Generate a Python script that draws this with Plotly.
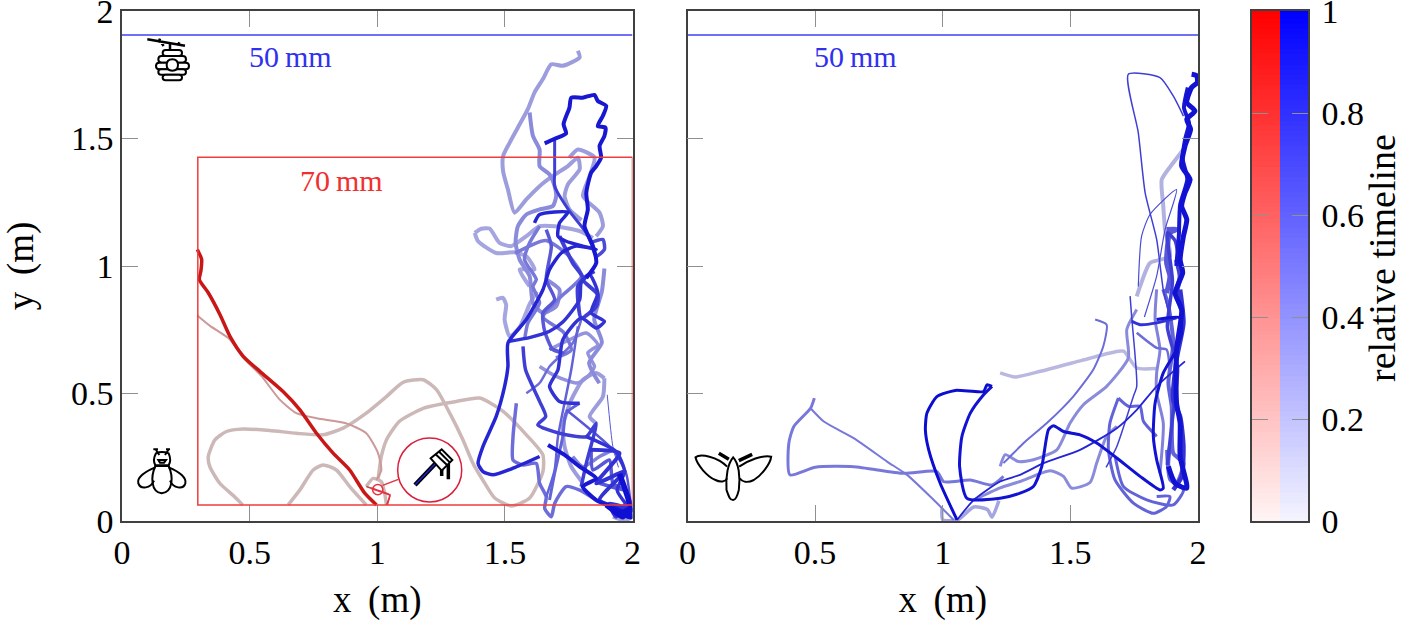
import re
import plotly.graph_objects as go

x_ticks = [0, 0.5, 1, 1.5, 2]
y_ticks = [0, 0.5, 1, 1.5, 2]
bar_ticks = [0, 0.2, 0.4, 0.6, 0.8, 1]
bar_levels = [i / 100 for i in range(101)]

# bee flight, first part of the run (red scale)
bee_red_main = [(0.295, 1.065), (0.312, 1.026), (0.309, 0.980), (0.303, 0.947), (0.338, 0.895), (0.384, 0.809),
                (0.423, 0.724), (0.475, 0.646), (0.540, 0.587), (0.631, 0.508), (0.697, 0.436), (0.762, 0.344),
                (0.827, 0.266), (0.892, 0.200), (0.951, 0.109), (0.997, 0.063)]
bee_red_thin = [(0.295, 0.806), (0.345, 0.765), (0.423, 0.712), (0.475, 0.640), (0.545, 0.570), (0.618, 0.476),
                (0.683, 0.423), (0.762, 0.403), (0.879, 0.383), (0.957, 0.344), (1.003, 0.266), (1.016, 0.200),
                (0.997, 0.161)]
bee_red_loop = [(0.473, 0.063), (0.440, 0.096), (0.383, 0.148), (0.344, 0.213), (0.338, 0.253), (0.364, 0.318),
                (0.409, 0.351), (0.475, 0.361), (0.579, 0.355), (0.683, 0.344), (0.788, 0.338), (0.866, 0.364),
                (0.957, 0.423), (1.036, 0.488), (1.101, 0.544), (1.180, 0.554), (1.232, 0.515), (1.284, 0.423),
                (1.336, 0.318), (1.375, 0.226), (1.414, 0.160), (1.460, 0.090), (1.526, 0.059), (1.597, 0.090),
                (1.649, 0.194), (1.649, 0.259), (1.584, 0.338), (1.493, 0.430), (1.401, 0.482), (1.310, 0.469),
                (1.258, 0.460), (1.180, 0.442), (1.087, 0.391), (1.036, 0.318), (1.016, 0.253), (1.003, 0.161)]
bee_red_arch = [(0.651, 0.063), (0.697, 0.122), (0.749, 0.200), (0.788, 0.220), (0.840, 0.200), (0.892, 0.135),
                (0.957, 0.063)]
bee_red_knot = [(0.957, 0.135), (0.984, 0.167), (1.016, 0.154), (1.029, 0.109), (1.036, 0.063)]
bee_red_tail = [(1.036, 0.063), (1.049, 0.102), (0.997, 0.122), (0.957, 0.135)]

# bee flight, second part of the run (blue scale)
bee_a = [(1.786, 1.844), (1.793, 1.818), (1.727, 1.785), (1.682, 1.791), (1.649, 1.733), (1.616, 1.680),
         (1.590, 1.615), (1.551, 1.543), (1.519, 1.484), (1.493, 1.431), (1.493, 1.372), (1.512, 1.300),
         (1.538, 1.209), (1.584, 1.261), (1.636, 1.313), (1.688, 1.353), (1.747, 1.392), (1.786, 1.425),
         (1.793, 1.379), (1.747, 1.320), (1.734, 1.274), (1.753, 1.222), (1.800, 1.180)]
bee_b = [(1.597, 1.602), (1.610, 1.510), (1.636, 1.457), (1.636, 1.392), (1.675, 1.359), (1.695, 1.313),
         (1.701, 1.274), (1.688, 1.235), (1.636, 1.222), (1.584, 1.202), (1.551, 1.156), (1.542, 1.091),
         (1.558, 1.025), (1.597, 0.960), (1.610, 0.855), (1.649, 0.816), (1.701, 0.842), (1.714, 0.907),
         (1.662, 0.947)]
bee_c = [(1.656, 1.481), (1.695, 1.499), (1.740, 1.520), (1.730, 1.556), (1.753, 1.621), (1.760, 1.660),
         (1.805, 1.660), (1.851, 1.671), (1.864, 1.647), (1.897, 1.628), (1.884, 1.589), (1.864, 1.549),
         (1.894, 1.543), (1.890, 1.510), (1.871, 1.471), (1.877, 1.425), (1.858, 1.392), (1.838, 1.366),
         (1.819, 1.287), (1.825, 1.222), (1.812, 1.156), (1.845, 1.078), (1.858, 1.012), (1.819, 0.953)]
bee_d = [(1.695, 1.497), (1.695, 1.366), (1.695, 1.313), (1.753, 1.215), (1.819, 1.130), (1.845, 1.071)]
bee_e = [(1.616, 1.169), (1.636, 1.202), (1.747, 1.211), (1.714, 1.169), (1.708, 1.117), (1.740, 1.097),
         (1.805, 1.078), (1.858, 1.065), (1.779, 1.078), (1.721, 1.051), (1.675, 0.986), (1.649, 0.907),
         (1.584, 0.790), (1.512, 0.698), (1.512, 0.606), (1.499, 0.528), (1.466, 0.410), (1.414, 0.292),
         (1.395, 0.226), (1.414, 0.194), (1.453, 0.181), (1.532, 0.207), (1.636, 0.253)]
bee_f = [(1.669, 0.298), (1.734, 0.259), (1.793, 0.213), (1.858, 0.167), (1.805, 0.135), (1.858, 0.082),
         (1.949, 0.043), (1.988, 0.023)]
bee_g = [(1.512, 0.704), (1.600, 0.720), (1.675, 0.744), (1.727, 0.780), (1.793, 0.868), (1.799, 0.934),
         (1.832, 0.966), (1.864, 0.894), (1.838, 0.816), (1.890, 0.783), (1.858, 0.757), (1.799, 0.796),
         (1.727, 0.711), (1.708, 0.593), (1.675, 0.528), (1.714, 0.469), (1.793, 0.462)]
bee_h = [(1.571, 0.685), (1.581, 0.593), (1.636, 0.469), (1.660, 0.410), (1.629, 0.377), (1.714, 0.344),
         (1.819, 0.331), (1.858, 0.383), (1.819, 0.226), (1.799, 0.135)]
bee_i = [(1.382, 1.130), (1.408, 1.146), (1.440, 1.147), (1.479, 1.091), (1.525, 1.078), (1.584, 1.117),
         (1.636, 1.156), (1.695, 1.156), (1.793, 1.137), (1.845, 1.110)]
bee_j = [(1.382, 1.130), (1.395, 1.097), (1.466, 1.051), (1.538, 1.054), (1.584, 1.038), (1.616, 0.986),
         (1.558, 0.986), (1.597, 0.920)]
bee_k = [(1.466, 0.868), (1.492, 0.875), (1.505, 0.848), (1.499, 0.790), (1.519, 0.724), (1.558, 0.760),
         (1.597, 0.850), (1.625, 0.900)]
bee_l = [(1.545, 0.462), (1.532, 0.331), (1.532, 0.239), (1.571, 0.220), (1.623, 0.226), (1.636, 0.148),
         (1.662, 0.095), (1.656, 0.049), (1.682, 0.017), (1.695, 0.069), (1.740, 0.135), (1.793, 0.121),
         (1.858, 0.082)]
bee_m = [(1.890, 0.560), (1.858, 0.580), (1.806, 0.554), (1.760, 0.475), (1.727, 0.370), (1.734, 0.292),
         (1.760, 0.213), (1.806, 0.148)]
bee_n = [(1.890, 0.560), (1.884, 0.488), (1.832, 0.410), (1.858, 0.383)]
bee_o = [(1.786, 0.763), (1.760, 0.593), (1.708, 0.331), (1.695, 0.200), (1.662, 0.095)]
bee_p = [(1.740, 0.436), (1.923, 0.279), (1.975, 0.187), (1.995, 0.043)]
bee_q = [(1.832, 0.279), (1.949, 0.266), (1.858, 0.148), (1.969, 0.194), (1.871, 0.082), (2.0, 0.043),
         (1.910, 0.069), (1.936, 0.017), (1.975, 0.069), (1.950, 0.030), (1.990, 0.020), (1.960, 0.055)]
bee_r = [(1.901, 0.495), (1.923, 0.292), (1.945, 0.210)]
bee_s = [(1.890, 0.990), (1.880, 0.900), (1.850, 0.790), (1.880, 0.700), (1.830, 0.620), (1.870, 0.540)]
bee_t = [(1.540, 1.050), (1.660, 1.100), (1.750, 1.040), (1.800, 0.960), (1.720, 0.880), (1.650, 0.800),
         (1.730, 0.740), (1.760, 0.670), (1.700, 0.640)]
bee_u = [(1.636, 1.156), (1.597, 1.091), (1.577, 1.025), (1.623, 0.947), (1.610, 0.920), (1.636, 0.855),
         (1.590, 0.776), (1.577, 0.711)]
bee_v = [(1.662, 1.143), (1.682, 1.078), (1.662, 0.947), (1.695, 0.868), (1.649, 0.816), (1.656, 0.744),
         (1.688, 0.672), (1.727, 0.659), (1.675, 0.678)]
bee_w = [(1.714, 1.117), (1.766, 1.012), (1.806, 0.953), (1.786, 0.920), (1.799, 0.796), (1.858, 0.842),
         (1.864, 0.888), (1.806, 0.947), (1.851, 0.979)]
bee_x = [(1.832, 1.091), (1.884, 1.104), (1.890, 1.065), (1.858, 1.038), (1.845, 1.070)]
bee_y = [(1.636, 0.606), (1.701, 0.567), (1.786, 0.541), (1.825, 0.567), (1.851, 0.606), (1.825, 0.659),
         (1.864, 0.691), (1.819, 0.737), (1.753, 0.711), (1.675, 0.672)]
bee_z = [(1.584, 0.501), (1.636, 0.541), (1.675, 0.606), (1.766, 0.698), (1.799, 0.789)]
bee_aa = [(1.793, 0.462), (1.740, 0.423), (1.727, 0.331), (1.695, 0.187), (1.675, 0.082)]
bee_ab = [(1.819, 0.331), (1.936, 0.272), (1.969, 0.194), (1.940, 0.120), (1.980, 0.060)]
bee_ac = [(1.766, 0.253), (1.806, 0.213), (1.871, 0.253), (1.923, 0.279)]
bee_ad = [(1.838, 0.279), (1.845, 0.200), (1.910, 0.239), (1.923, 0.148), (1.969, 0.121), (1.871, 0.148)]
bee_ae = [(1.897, 0.063), (1.949, 0.030), (1.995, 0.049), (1.962, 0.017), (1.923, 0.043), (1.995, 0.017),
          (1.988, 0.070), (1.969, 0.130), (1.949, 0.185)]
bee_af = [(1.923, 0.017), (1.975, 0.002), (2.0, 0.023)]
bee_ag = [(1.753, 1.425), (1.786, 1.457), (1.851, 1.425), (1.832, 1.353), (1.806, 1.274), (1.871, 1.209),
          (1.884, 1.156), (1.858, 1.117)]

bee_red_paths = [bee_red_loop, bee_red_arch, bee_red_knot, bee_red_thin, bee_red_tail, bee_red_main]
bee_red_times = [0.12, 0.12, 0.12, 0.35, 0.75, 0.92]
bee_red_widths = [3.5, 3.5, 3.5, 2, 1.5, 3.5]

bee_blue_paths = [bee_af, bee_i, bee_j, bee_k, bee_a, bee_ag, bee_m, bee_n, bee_y, bee_b, bee_s, bee_ac, bee_u,
                  bee_t, bee_z, bee_l, bee_o, bee_aa, bee_r, bee_p, bee_v, bee_ad, bee_x, bee_h, bee_d, bee_w,
                  bee_g, bee_q, bee_ab, bee_e, bee_f, bee_c, bee_ae]
bee_blue_times = [0.3, 0.3, 0.3, 0.3, 0.35, 0.35, 0.35, 0.35, 0.4, 0.45, 0.45, 0.5, 0.55, 0.55, 0.6, 0.6, 0.65, 0.65,
                  0.7, 0.7, 0.7, 0.7, 0.75, 0.8, 0.8, 0.8, 0.85, 0.85, 0.85, 0.9, 0.95, 0.95, 0.98]
bee_blue_widths = [4, 4, 4, 4, 4, 4, 4, 4, 3.5, 4, 4, 3.5, 3.5, 3.5, 2.5, 3.5, 2.5, 3, 1, 2.5, 3.5, 3.5, 3.5,
                   3.5, 3, 4, 3.5, 4, 3.5, 3.5, 4, 4, 5.5]

# moth flight
moth_a = [(1.193, 0.528), (1.173, 0.534), (1.160, 0.508), (1.049, 0.512), (0.977, 0.488), (0.938, 0.423),
          (0.932, 0.357), (0.945, 0.279), (0.990, 0.148), (1.056, 0.004)]
moth_b = [(1.193, 0.528), (1.160, 0.495), (1.108, 0.423), (1.075, 0.331), (1.066, 0.213), (1.095, 0.089), (1.225, 0.089),
          (1.303, 0.109), (1.355, 0.135), (1.388, 0.214), (1.414, 0.358), (1.434, 0.374), (1.473, 0.351),
          (1.538, 0.338), (1.603, 0.306), (1.682, 0.247), (1.773, 0.175), (1.851, 0.122), (1.864, 0.129),
          (1.838, 0.240), (1.825, 0.332), (1.832, 0.463), (1.864, 0.581), (1.916, 0.672), (1.936, 0.738),
          (1.930, 0.797), (1.838, 0.790)]
moth_c = [(1.056, 0.004), (1.121, 0.082), (1.225, 0.155), (1.303, 0.181), (1.395, 0.227), (1.538, 0.279),
          (1.682, 0.364), (1.760, 0.436), (1.838, 0.528), (1.949, 0.626)]
moth_d = [(0.497, 0.482), (0.482, 0.442), (0.416, 0.370), (0.397, 0.305), (0.401, 0.181), (0.501, 0.211),
          (0.651, 0.213), (0.847, 0.187), (0.977, 0.194), (1.004, 0.154), (1.108, 0.161), (1.193, 0.141),
          (1.238, 0.175)]
moth_e = [(0.482, 0.442), (0.534, 0.390), (0.651, 0.325), (0.782, 0.233), (0.860, 0.181), (0.951, 0.096),
          (1.043, 0.004)]
moth_f = [(1.225, 0.581), (1.284, 0.565), (1.382, 0.587), (1.545, 0.630), (1.656, 0.659), (1.708, 0.666),
          (1.760, 0.600), (1.838, 0.598)]
moth_g = [(1.597, 0.790), (1.642, 0.770), (1.629, 0.685), (1.590, 0.594), (1.512, 0.489), (1.408, 0.384),
          (1.316, 0.305), (1.264, 0.253), (1.238, 0.227)]
moth_h = [(1.225, 0.214), (1.245, 0.260), (1.297, 0.233), (1.355, 0.240), (1.447, 0.279), (1.499, 0.384),
          (1.551, 0.456), (1.642, 0.528), (1.727, 0.639), (1.721, 0.751), (1.760, 0.829)]
moth_i = [(1.121, 0.082), (1.225, 0.130), (1.303, 0.155), (1.421, 0.197), (1.473, 0.175), (1.505, 0.129),
          (1.577, 0.151), (1.603, 0.227), (1.642, 0.332), (1.682, 0.371)]
moth_j = [(1.688, 0.482), (1.655, 0.384), (1.649, 0.279), (1.675, 0.161), (1.747, 0.070), (1.825, 0.030),
          (1.877, 0.057), (1.890, 0.096), (1.838, 0.096)]
moth_k = [(1.688, 0.482), (1.727, 0.450), (1.773, 0.450), (1.786, 0.391), (1.838, 0.332)]
moth_l = [(1.675, 0.255), (1.708, 0.135), (1.799, 0.083), (1.903, 0.063), (1.943, 0.122), (1.890, 0.161),
          (1.877, 0.279)]
moth_m = [(1.975, 1.752), (1.995, 1.746), (1.997, 1.719), (1.975, 1.700), (1.956, 1.641), (1.988, 1.608),
          (1.956, 1.575), (1.971, 1.536), (1.949, 1.470), (1.936, 1.392), (1.969, 1.339), (1.949, 1.287),
          (1.936, 1.235), (1.956, 1.182), (1.943, 1.117), (1.930, 1.025), (1.940, 0.973), (1.910, 0.894),
          (1.936, 0.829), (1.916, 0.672), (1.916, 0.463), (1.930, 0.384), (1.930, 0.253), (1.956, 0.129),
          (1.910, 0.148), (1.884, 0.214)]
moth_n = [(1.943, 1.588), (1.903, 1.667), (1.851, 1.739), (1.727, 1.752), (1.766, 1.523), (1.793, 1.287),
          (1.838, 1.104), (1.864, 0.907), (1.890, 0.800)]
moth_o = [(1.766, 0.920), (1.779, 1.117), (1.812, 1.202), (1.916, 1.300), (1.871, 1.143), (1.838, 0.960),
          (1.790, 0.800)]
moth_p = [(1.943, 1.457), (1.903, 1.405), (1.858, 1.339), (1.864, 1.235), (1.871, 1.143), (1.890, 1.038),
          (1.812, 1.012), (1.773, 0.920), (1.760, 0.881)]
moth_q = [(1.734, 0.882), (1.740, 0.803), (1.760, 0.528), (1.747, 0.489), (1.682, 0.292), (1.640, 0.210)]
moth_r = [(1.930, 0.980), (1.910, 1.100), (1.880, 1.130), (1.900, 0.940), (1.880, 0.760), (1.920, 0.600),
          (1.900, 0.400), (1.880, 0.220)]
moth_s = [(0.997, 0.050), (1.000, 0.005), (1.060, 0.005), (1.121, 0.055), (1.175, 0.045), (1.193, 0.015),
          (1.220, 0.080)]
moth_t = [(1.930, 0.908), (1.943, 0.777), (1.916, 0.633), (1.903, 0.476), (1.930, 0.410), (1.943, 0.292),
          (1.936, 0.174), (1.903, 0.122)]
moth_u = [(1.890, 0.292), (1.884, 0.214), (1.916, 0.148), (1.943, 0.227), (1.903, 0.266), (1.897, 0.450),
          (1.884, 0.541), (1.903, 0.699), (1.884, 0.843), (1.864, 0.908)]
moth_v = [(1.838, 0.908), (1.832, 0.790), (1.851, 0.672), (1.838, 0.581), (1.838, 0.502), (1.864, 0.384),
          (1.851, 0.188)]
moth_w = [(1.740, 0.784), (1.773, 0.770), (1.838, 0.777), (1.916, 0.797)]
moth_x = [(1.760, 0.738), (1.838, 0.679), (1.877, 0.672), (1.890, 0.581)]
moth_y = [(1.877, 1.143), (1.916, 1.143), (1.890, 1.130), (1.877, 1.012), (1.890, 0.960), (1.877, 0.894)]
moth_z = [(1.916, 1.025), (1.930, 0.960), (1.916, 0.894), (1.936, 0.829)]
moth_aa = [(1.960, 1.700), (1.945, 1.620), (1.965, 1.560), (1.950, 1.500), (1.940, 1.420), (1.958, 1.340),
           (1.930, 1.240), (1.925, 1.120), (1.915, 1.000)]

moth_paths = [moth_f, moth_s, moth_p, moth_h, moth_i, moth_v, moth_d, moth_e, moth_g, moth_x, moth_u, moth_l, moth_j,
              moth_k, moth_y, moth_o, moth_q, moth_r, moth_n, moth_z, moth_w, moth_t, moth_c, moth_aa, moth_m, moth_b,
              moth_a]
moth_times = [0.15, 0.3, 0.2, 0.45, 0.45, 0.5, 0.55, 0.55, 0.6, 0.6, 0.65, 0.65, 0.65, 0.65, 0.7, 0.75, 0.8, 0.8, 0.8,
              0.8, 0.85, 0.85, 0.9, 0.95, 0.97, 0.97, 0.99]
moth_widths = [3.5, 3.5, 4, 3, 3, 3, 3, 2, 2, 2.5, 4, 3, 3, 3, 5, 1.2, 1.5, 3.5, 1.5, 5, 3, 4.5, 1.8, 4, 5, 3, 3]


def track_color(t, scale):
    # low end of the tracks is a washed grey, not white
    if scale == 'red':
        low, high = (205, 192, 192), (200, 0, 0)
    else:
        low, high = (195, 195, 225), (10, 10, 210)
    amount = t ** 1.5
    mix = [low[i] + (high[i] - low[i]) * amount for i in range(3)]
    return 'rgb({0:.0f},{1:.0f},{2:.0f})'.format(*mix)


fig = go.Figure()


def add_tracks(paths, times, widths, scale, xaxis, yaxis):
    for path, t, width in zip(paths, times, widths):
        fig.add_trace(go.Scatter(x=[p[0] for p in path], y=[p[1] for p in path], mode='lines',
                                 line=dict(color=track_color(t, scale), width=width, shape='spline', smoothing=0.6),
                                 xaxis=xaxis, yaxis=yaxis, showlegend=False, hoverinfo='skip'))


add_tracks(bee_red_paths, bee_red_times, bee_red_widths, 'red', 'x', 'y')
add_tracks(bee_blue_paths, bee_blue_times, bee_blue_widths, 'blue', 'x', 'y')
add_tracks(moth_paths, moth_times, moth_widths, 'blue', 'x2', 'y2')

fig.add_trace(go.Heatmap(x=[0], y=bar_levels, z=[[v] for v in bar_levels], zmin=0, zmax=1, showscale=False,
                         colorscale=[[0, '#fff4f4'], [1, '#ff0000']], xaxis='x3', yaxis='y3', hoverinfo='skip'))
fig.add_trace(go.Heatmap(x=[1], y=bar_levels, z=[[v] for v in bar_levels], zmin=0, zmax=1, showscale=False,
                         colorscale=[[0, '#f4f4ff'], [1, '#0000ff']], xaxis='x3', yaxis='y3', hoverinfo='skip'))


# icons are drawn in picture pixels measured from the crop origin and mapped onto the data axes
def icon(path_text, ox, oy, panel_left=122, xref='x', yref='y', color='black', width=2, fill=None):
    def convert(m):
        px = ox + float(m.group(1)) / 3
        py = oy + float(m.group(2)) / 3
        return '{0:.4f},{1:.4f}'.format((px - panel_left) / 255.25, (521 - py) / 255)
    fig.add_shape(type='path', path=re.sub(r'(-?[\d.]+),(-?[\d.]+)', convert, path_text), xref=xref, yref=yref,
                  line=dict(color=color, width=width), fillcolor=fill, layer='above')


def rounded(x0, y0, x1, y1):
    r = (y1 - y0) / 2
    return ('M {0},{1} L {2},{1} Q {3},{1} {3},{4} Q {3},{5} {2},{5} L {0},{5} Q {6},{5} {6},{4} Q {6},{1} {0},{1} Z'
            .format(x0 + r, y0, x1 - r, x1, (y0 + y1) / 2, y1, x0))


# hive
for box in [(128, 150, 186, 168), (115, 168, 198, 188), (108, 188, 207, 208), (115, 208, 198, 224),
            (128, 224, 186, 241)]:
    icon(rounded(*box), 120, 0, fill='white')
icon('M 157,178 Q 174,178 174,195 Q 174,212 157,212 Q 140,212 140,195 Q 140,178 157,178 Z', 120, 0, fill='white')
icon('M 82,118 L 195,137 M 120,116 L 116,128 M 178,127 L 174,136 M 125,130 L 131,138 M 150,133 L 150,150', 120, 0,
     width=2.5)

# bee
bee_icon = ['M 108,640 Q 125,632 146,640 Q 155,660 146,676 L 106,676 Q 97,660 108,640 Z',
            'M 108,630 L 118,645 M 145,630 L 135,645 M 100,628 L 114,628 M 138,628 L 150,628',
            'M 115,660 L 138,660 L 132,668 L 120,668 Z',
            'M 106,682 C 72,695 50,715 55,730 C 62,750 92,745 102,722',
            'M 146,682 C 180,695 200,715 196,730 C 190,750 160,745 150,722',
            'M 106,678 C 92,710 92,755 125,760 C 160,755 160,710 146,678 Z']
for part in bee_icon:
    icon(part, 120, 240)

# moth
moth_icon = ['M 110,380 C 80,350 30,340 15,352 C 20,375 50,410 75,420 C 90,428 105,425 110,415',
             'M 128,352 C 112,370 105,410 108,450 C 115,470 118,480 128,480 C 135,480 140,470 145,450 '
             'C 150,410 145,370 128,352 Z',
             'M 146,380 C 175,360 215,345 242,350 C 240,370 215,405 190,420 C 170,430 155,425 148,415']
for part in moth_icon:
    icon(part, 690, 340, panel_left=687, xref='x2', yref='y2')
icon('M 85,340 L 115,358 M 185,343 L 145,362', 690, 340, panel_left=687, xref='x2', yref='y2', width=3.5)

# honey dipper with its callout
fig.add_shape(type='circle', x0=1.080, x1=1.331, y0=0.0745, y1=0.3255, xref='x', yref='y',
              line=dict(color='#d8203c', width=1.5))
fig.add_shape(type='circle', x0=0.982, x1=1.022, y0=0.103, y1=0.143, xref='x', yref='y',
              line=dict(color='#e83040', width=1.5))
icon('M 835,718 L 788,736 M 752,745 L 810,765 L 802,795', 120, 240, color='#e83040', width=1.5)
icon('M 885,735 L 945,672', 120, 240, width=4.5)
icon('M 885,735 L 945,672', 120, 240, color='#2020e0', width=1.2)
icon('M 932,655 L 965,628 L 997,660 L 965,692 Z M 946,642 L 982,676 M 956,634 L 990,668', 120, 240, fill='white')
icon('M 965,690 L 965,708 M 985,672 L 985,718', 120, 240, width=3.5)

# scale bars drawn on the data axes
for xref, yref in [('x', 'y'), ('x2', 'y2')]:
    fig.add_shape(type='line', x0=0, x1=2, y0=1.906, y1=1.906, xref=xref, yref=yref, line=dict(color='#4040f0', width=1.5))
fig.add_shape(type='rect', x0=0.297, x1=2, y0=0.063, y1=1.426, xref='x', yref='y', line=dict(color='#f03c3c', width=1.5))

label_font = dict(family='Liberation Serif', size=30)
fig.add_annotation(x=0.66, y=1.82, xref='x', yref='y', text='50\u2009mm', showarrow=False, font=dict(label_font, color='#3030f0'))
fig.add_annotation(x=0.66, y=1.82, xref='x2', yref='y2', text='50\u2009mm', showarrow=False, font=dict(label_font, color='#3030f0'))
fig.add_annotation(x=0.86, y=1.335, xref='x', yref='y', text='70\u2009mm', showarrow=False, font=dict(label_font, color='#f03030'))
fig.add_annotation(x=(1382 - 122) / 1186, y=(521 - 258) / 510, xref='paper', yref='paper', xanchor='center',
                   yanchor='middle', text='relative timeline', textangle=-90, showarrow=False,
                   font=dict(family='Liberation Serif', size=38, color='black'))

axis_style = dict(range=[0, 2], showgrid=False, zeroline=False, showline=True, linecolor='#404040', linewidth=1.5,
                  mirror='ticks', ticks='inside', ticklen=16, tickwidth=1, tickcolor='#909090',
                  ticklabeloverflow='allow', tickfont=dict(family='Liberation Serif', size=34, color='black'))

title_font = dict(family='Liberation Serif', size=37, color='black')
fig.update_layout(
    width=1418, height=621, plot_bgcolor='white', paper_bgcolor='white', showlegend=False,
    margin=dict(l=122, r=110, t=11, b=100, autoexpand=False),
    xaxis=dict(axis_style, domain=[0, 510.5 / 1186], anchor='y', tickvals=x_ticks, ticktext=[str(v) for v in x_ticks],
               title=dict(text='x \u2009(m)', font=title_font, standoff=20)),
    yaxis=dict(axis_style, domain=[0, 1], anchor='x', tickvals=y_ticks, ticktext=[str(v) for v in y_ticks],
               title=dict(text='y \u2009(m)', font=title_font, standoff=30)),
    xaxis2=dict(axis_style, domain=[565.5 / 1186, 1076 / 1186], anchor='y2', tickvals=x_ticks,
                ticktext=[str(v) for v in x_ticks], title=dict(text='x \u2009(m)', font=title_font, standoff=20)),
    yaxis2=dict(axis_style, domain=[0, 1], anchor='x2', tickvals=y_ticks, showticklabels=False),
    xaxis3=dict(domain=[1130 / 1186, 1], anchor='y3', range=[-0.5, 1.5], showgrid=False, zeroline=False, showline=True,
                linecolor='#404040', linewidth=1.5, mirror=True, showticklabels=False, ticks=''),
    yaxis3=dict(axis_style, domain=[0, 1], anchor='x3', side='right', tickvals=bar_ticks,
                ticktext=[str(v) for v in bar_ticks], range=[0, 1], ticklabelstandoff=5),
)

fig.write_html("out.html", config=dict(displayModeBar=False), post_script="document.body.style.margin='0';")
